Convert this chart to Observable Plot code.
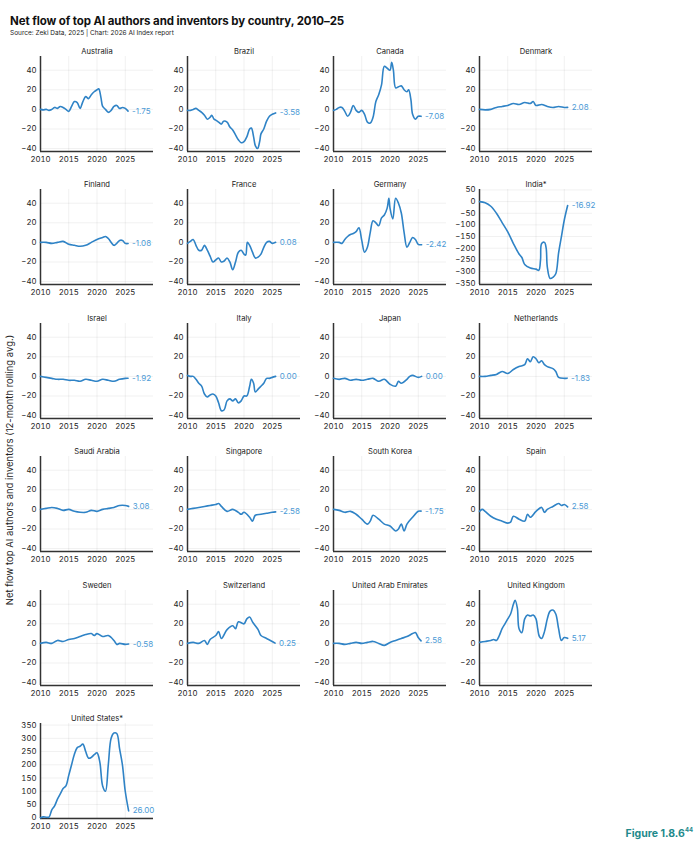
<!DOCTYPE html>
<html>
<head>
<meta charset="utf-8">
<script src="https://cdn.jsdelivr.net/npm/d3@7"></script>
<script src="https://cdn.jsdelivr.net/npm/@observablehq/plot@0.6"></script>
<style>
  body { margin: 0; background: #fff; font-family: Inter, "Noto Sans", sans-serif; }
  #root { position: relative; width: 699px; height: 850px; overflow: hidden; }
  .title { position: absolute; left: 10px; top: 14px; font-size: 11.5px; font-weight: 700; color: #111; letter-spacing: -0.1px; }
  .sub { position: absolute; left: 10px; top: 29px; font-size: 6.5px; color: #222; }
  .ylab { position: absolute; left: 9px; top: 470px; transform: translate(-50%, -50%) rotate(-90deg); transform-origin: center; font-size: 9.5px; color: #222; white-space: nowrap; }
  .fig { position: absolute; right: 6px; top: 826px; font-size: 10.5px; font-weight: 700; color: #1f8a8c; }
  .fig sup { font-size: 6px; }
  .panel { position: absolute; }
</style>
</head>
<body>
<div id="root">
  <div class="title">Net flow of top AI authors and inventors by country, 2010–25</div>
  <div class="sub">Source: Zeki Data, 2025 | Chart: 2026 AI Index report</div>
  <div class="ylab">Net flow top AI authors and inventors (12-month rolling avg.)</div>
  <div class="fig">Figure 1.8.6<sup>44</sup></div>
</div>
<script>
const countries = ["Australia","Brazil","Canada","Denmark","Finland","France","Germany","India*","Israel","Italy","Japan","Netherlands","Saudi Arabia","Singapore","South Korea","Spain","Sweden","Switzerland","United Arab Emirates","United Kingdom","United States*"];
const endLabels = ["-1.75","-3.58","-7.08","2.08","-1.08","0.08","-2.42","-16.92","-1.92","0.00","0.00","-1.83","3.08","-2.58","-1.75","2.58","-0.58","0.25","2.58","5.17","26.00"];
const xTicks = [2010, 2015, 2020, 2025];
const xDomain = [2010, 2030];
const yTicksSmall = [-40, -20, 0, 20, 40];
const yDomainSmall = [-43, 54];
const yTicksIndia = [50, 0, -50, -100, -150, -200, -250, -300, -350];
const yDomainIndia = [-356, 52];
const yTicksUS = [0, 50, 100, 150, 200, 250, 300, 350];
const yDomainUS = [-3, 356];

const australia = [[2010,0],[2010.5,-0.5],[2011,0],[2011.5,-1],[2012,0],[2012.5,2],[2013,1],[2013.5,3],[2014,2],[2014.5,0],[2015,-2],[2015.5,3],[2016,8],[2016.5,7],[2017,1],[2017.5,8],[2018,13],[2018.5,11],[2019,15],[2019.5,18],[2020,20],[2020.3,21],[2020.7,12],[2021,3],[2021.5,0],[2022,-3],[2022.5,-1],[2023,3],[2023.5,4],[2024,1],[2024.5,2],[2025,1],[2025.5,-1.75]];
const brazil = [[2010,-1],[2010.5,-1],[2011,0],[2011.5,1],[2012,-1],[2012.5,-3],[2013,-6],[2013.5,-10],[2014,-8],[2014.3,-6],[2014.7,-10],[2015,-11],[2015.5,-13],[2016,-15],[2016.4,-12],[2017,-13],[2017.5,-18],[2018,-21],[2018.5,-26],[2019,-31],[2019.5,-34],[2020,-33],[2020.5,-28],[2021,-20],[2021.3,-19],[2021.7,-28],[2022,-37],[2022.4,-40],[2022.8,-32],[2023,-25],[2023.5,-20],[2024,-12],[2024.5,-7],[2025,-5],[2025.6,-3.58]];
const canada = [[2010,-1],[2010.5,0],[2011,2],[2011.5,2],[2012,-2],[2012.5,-7],[2013,-3],[2013.5,4],[2014,-1],[2014.5,-3],[2015,-1],[2015.5,-5],[2016,-13],[2016.5,-14],[2017,-8],[2017.5,8],[2018,15],[2018.5,25],[2019,44],[2019.5,42],[2020,40],[2020.3,48],[2020.6,40],[2021,22],[2021.5,23],[2022,24],[2022.5,20],[2023,18],[2023.3,20],[2023.7,10],[2024,-5],[2024.5,-10],[2025,-7],[2025.5,-7.08]];
const denmark = [[2010,0],[2011,-0.5],[2012,0],[2013,2],[2014,3],[2015,4],[2016,6],[2017,5],[2018,7],[2019,6],[2019.5,8],[2020,4],[2021,5],[2022,3],[2023,2],[2024,3],[2025,2],[2025.6,2.08]];
const finland = [[2010,0],[2011,0],[2012,-1],[2013,0],[2014,1],[2015,-2],[2016,-3],[2017,-4],[2018,-3],[2019,0],[2020,3],[2021,5],[2021.5,6],[2022,4],[2023,-3],[2023.5,-1],[2024,2],[2024.5,2],[2025,-1],[2025.5,-1.08]];
const france = [[2010,-1],[2010.5,1],[2011,3],[2011.5,-3],[2012,-8],[2012.5,-8],[2013,-3],[2013.5,-8],[2014,-14],[2014.5,-20],[2015,-18],[2015.5,-16],[2016,-20],[2016.5,-19],[2017,-16],[2017.5,-20],[2018,-28],[2018.5,-20],[2019,-10],[2019.5,-8],[2020,-12],[2020.3,-13],[2020.6,0],[2021,-3],[2021.5,-10],[2022,-16],[2022.5,-15],[2023,-12],[2023.5,-5],[2024,0],[2024.5,1],[2025,-1],[2025.6,0.08]];
const germany = [[2010,0],[2011,0],[2011.5,-1],[2012,3],[2012.5,6],[2013,8],[2013.5,9],[2014,11],[2014.5,15],[2015,2],[2015.5,-10],[2016,-5],[2016.5,10],[2017,22],[2017.5,20],[2018,17],[2018.5,25],[2019,28],[2019.5,35],[2019.8,45],[2020,35],[2020.5,24],[2021,45],[2021.5,40],[2022,30],[2022.5,10],[2023,-5],[2023.5,0],[2024,5],[2024.5,3],[2025,-2],[2025.6,-2.42]];
const india = [[2010,0],[2011,-5],[2012,-20],[2013,-50],[2014,-90],[2015,-130],[2016,-180],[2017,-225],[2017.5,-240],[2018,-270],[2019,-285],[2020,-290],[2020.5,-295],[2020.8,-250],[2021,-180],[2021.5,-175],[2021.8,-200],[2022,-280],[2022.5,-330],[2023,-325],[2023.5,-310],[2024,-220],[2024.5,-150],[2025,-80],[2025.6,-16.92]];
const israel = [[2010,0],[2011,-1],[2012,-2],[2013,-3],[2014,-3],[2015,-4],[2016,-4],[2017,-5],[2018,-3],[2019,-4],[2020,-5],[2021,-3],[2022,-4],[2023,-5],[2024,-3],[2025,-2],[2025.5,-1.92]];
const italy = [[2010,1],[2010.5,0],[2011,0],[2011.5,-3],[2012,-7],[2012.5,-10],[2013,-18],[2013.5,-21],[2014,-19],[2014.5,-18],[2015,-20],[2015.5,-27],[2016,-35],[2016.5,-34],[2017,-25],[2017.5,-23],[2018,-25],[2018.5,-23],[2019,-27],[2019.5,-25],[2020,-20],[2020.5,-20],[2021,-10],[2021.3,-3],[2021.7,-7],[2022,-16],[2022.5,-13],[2023,-10],[2023.5,-7],[2024,-2],[2024.5,-2],[2025,-1],[2025.6,0]];
const japan = [[2010,-2],[2011,-3],[2012,-2],[2013,-4],[2014,-3],[2015,-4],[2016,-3],[2017,-2],[2018,-5],[2019,-3],[2020,-8],[2021,-10],[2021.5,-5],[2022,-7],[2023,-3],[2023.5,0],[2024,1],[2025,-1],[2025.6,0]];
const netherlands = [[2010,0],[2011,0],[2012,1],[2013,2],[2014,5],[2015,3],[2016,7],[2017,10],[2018,12],[2018.5,18],[2019,15],[2019.5,20],[2020,18],[2020.5,14],[2021,16],[2021.5,12],[2022,10],[2023,8],[2023.5,5],[2024,-1],[2025,-2],[2025.5,-1.83]];
const saudiArabia = [[2010,0],[2011,1],[2012,2],[2013,1],[2014,-1],[2015,0],[2016,-2],[2017,-3],[2018,-3],[2019,-1],[2020,-2],[2021,0],[2022,1],[2023,2],[2024,4],[2025,4],[2025.6,3.08]];
const singapore = [[2010,0],[2011,1],[2012,2],[2013,3],[2014,4],[2015,5],[2015.5,6],[2016,3],[2017,-2],[2018,0],[2019,-3],[2019.5,-5],[2020,-3],[2021,-8],[2021.5,-12],[2022,-6],[2023,-5],[2024,-4],[2025,-3],[2025.6,-2.58]];
const southKorea = [[2010,0],[2011,-1],[2012,-3],[2013,-2],[2014,-5],[2015,-10],[2016,-15],[2016.5,-12],[2017,-6],[2018,-10],[2019,-15],[2020,-17],[2021,-22],[2021.5,-20],[2022,-15],[2022.5,-22],[2023,-15],[2024,-8],[2025,-2],[2025.5,-1.75]];
const spain = [[2010,-2],[2010.5,0],[2011,-2],[2012,-7],[2013,-10],[2014,-12],[2015,-14],[2015.5,-13],[2016,-7],[2017,-10],[2018,-12],[2018.5,-5],[2019,-8],[2020,-2],[2021,2],[2021.5,-3],[2022,0],[2023,3],[2024,6],[2024.5,4],[2025,5],[2025.6,2.58]];
const sweden = [[2010,0],[2011,1],[2012,0],[2013,3],[2014,2],[2015,4],[2016,5],[2017,7],[2018,9],[2019,10],[2019.5,8],[2020,10],[2021,7],[2022,8],[2023,3],[2023.5,-1],[2024,0],[2025,-1],[2025.6,-0.58]];
const switzerland = [[2010,0],[2011,1],[2012,0],[2013,3],[2013.5,-1],[2014,4],[2015,8],[2015.5,12],[2016,5],[2017,14],[2018,18],[2018.5,15],[2019,22],[2020,20],[2020.5,25],[2021,27],[2021.5,22],[2022,18],[2022.5,14],[2023,8],[2024,5],[2025,2],[2025.5,0.25]];
const uae = [[2010,0],[2011,0],[2012,-1],[2013,0],[2014,1],[2015,0],[2016,1],[2017,2],[2018,0],[2019,-2],[2020,1],[2021,3],[2022,5],[2023,7],[2024,10],[2024.5,11],[2025,6],[2025.5,2.58]];
const uk = [[2010,1],[2011,2],[2012,3],[2012.5,4],[2013,3],[2013.5,8],[2014,15],[2014.5,20],[2015,25],[2015.5,30],[2016,40],[2016.3,44],[2016.7,36],[2017,15],[2017.5,11],[2018,25],[2018.5,29],[2019,28],[2019.5,29],[2020,25],[2020.3,15],[2020.6,7],[2021,5],[2021.5,12],[2022,25],[2022.5,33],[2023,34],[2023.5,30],[2024,15],[2024.5,3],[2025,6],[2025.6,5.17]];
const us = [[2010,0],[2010.5,3],[2011,2],[2011.5,2],[2012,30],[2012.5,45],[2013,70],[2013.5,90],[2014,110],[2014.5,120],[2015,160],[2015.5,200],[2016,240],[2016.5,265],[2017,270],[2017.5,278],[2018,250],[2018.5,225],[2019,228],[2019.5,238],[2020,245],[2020.5,210],[2021,120],[2021.5,100],[2022,200],[2022.5,300],[2023,320],[2023.5,318],[2024,260],[2024.5,200],[2025,100],[2025.6,26]];

const series = [australia, brazil, canada, denmark, finland, france, germany, india, israel, italy, japan, netherlands, saudiArabia, singapore, southKorea, spain, sweden, switzerland, uae, uk, us];

const lineColor = "#2f83c6";
const labelColor = "#4c9ad6";
const colX = [10, 157, 303, 449];
const rowTop = 38, rowPitch = 133.4;
const root = document.getElementById("root");

countries.forEach((name, i) => {
  const data = series[i].map(([year, value]) => ({year, value}));
  let yDomain = yDomainSmall, yTicks = yTicksSmall;
  if (name === "India*") { yDomain = yDomainIndia; yTicks = yTicksIndia; }
  if (name === "United States*") { yDomain = yDomainUS; yTicks = yTicksUS; }
  const last = data[data.length - 1];
  const chart = Plot.plot({
    width: 146, height: 128,
    marginTop: 18, marginBottom: 15, marginLeft: 30, marginRight: 3,
    style: {fontFamily: "Inter, 'Noto Sans', sans-serif", fontSize: "7.8px", color: "#222", background: "transparent", overflow: "visible"},
    x: {domain: xDomain, ticks: xTicks, tickFormat: d3.format("d"), tickSize: 0, tickPadding: 5, label: null},
    y: {domain: yDomain, ticks: yTicks, tickSize: 0, tickPadding: 4, label: null},
    marks: [
      Plot.gridX(xTicks, {stroke: "#000", strokeOpacity: 0.06}),
      Plot.gridY(yTicks, {stroke: "#000", strokeOpacity: 0.06}),
      Plot.axisX({ticks: xTicks, tickFormat: d3.format("d"), tickSize: 0, tickPadding: 5}),
      Plot.axisY({ticks: yTicks, tickSize: 0, tickPadding: 4}),
      Plot.ruleX([xDomain[0]], {stroke: "#333", strokeWidth: 1.5}),
      Plot.ruleY([yDomain[0]], {stroke: "#333", strokeWidth: 1.5}),
      Plot.line(data, {x: "year", y: "value", stroke: lineColor, strokeWidth: 1.6, curve: "catmull-rom"}),
      Plot.text([last], {x: "year", y: "value", text: () => endLabels[i], dx: 4, textAnchor: "start", fill: labelColor, fontSize: 8}),
      Plot.text([name], {frameAnchor: "top", dy: -8, fontSize: 7.6, fill: "#222"})
    ]
  });
  const div = document.createElement("div");
  div.className = "panel";
  div.style.left = colX[i % 4] + "px";
  div.style.top = (rowTop + Math.floor(i / 4) * rowPitch) + "px";
  div.appendChild(chart);
  root.appendChild(div);
});
</script>
</body>
</html>
